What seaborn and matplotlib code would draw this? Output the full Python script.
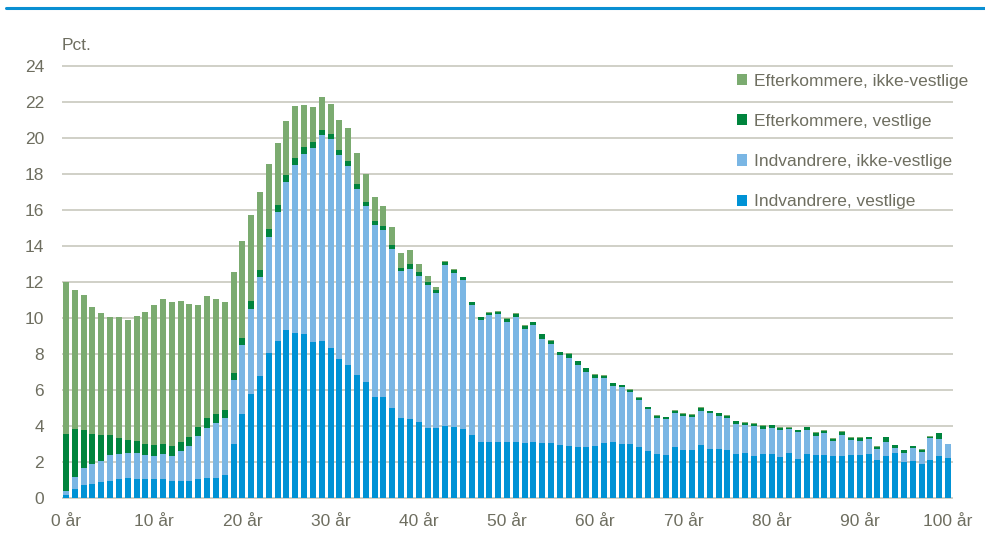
import numpy as np
import pandas as pd
import matplotlib
matplotlib.use("Agg")
import matplotlib.pyplot as plt
import seaborn as sns

# -----------------------------------
# DATA (pct. by age)
# -----------------------------------

ages = list(range(0, 101))

indv_vestlige = [
    0.18, 0.48, 0.70, 0.76, 0.87, 0.96, 1.04, 1.11, 1.04, 1.04,
    1.06, 1.06, 0.94, 0.94, 0.94, 1.04, 1.12, 1.13, 1.30, 3.02,
    4.69, 5.80, 6.80, 8.07, 8.70, 9.35, 9.19, 9.13, 8.69, 8.74,
    8.35, 7.74, 7.39, 6.83, 6.44, 5.61, 5.61, 4.98, 4.46, 4.39,
    4.22, 3.89, 3.89, 4.00, 3.94, 3.83, 3.50, 3.11, 3.11, 3.11,
    3.11, 3.11, 3.07, 3.11, 3.07, 3.07, 2.96, 2.91, 2.85, 2.85,
    2.91, 3.07, 3.11, 3.02, 3.02, 2.85, 2.63, 2.43, 2.39, 2.85,
    2.69, 2.69, 2.96, 2.74, 2.74, 2.69, 2.46, 2.52, 2.33, 2.46,
    2.43, 2.30, 2.50, 2.19, 2.47, 2.41, 2.41, 2.33, 2.33, 2.39,
    2.39, 2.44, 2.11, 2.33, 2.50, 2.02, 2.06, 1.87, 2.11, 2.33,
    2.22,
]

indv_ikke_vestlige = [
    0.19, 0.69, 0.95, 1.15, 1.20, 1.41, 1.42, 1.41, 1.44, 1.37,
    1.27, 1.38, 1.39, 1.69, 1.93, 2.40, 2.79, 3.06, 3.16, 3.54,
    3.79, 4.72, 5.46, 6.43, 7.19, 8.22, 9.29, 10.00, 10.77, 11.45,
    11.61, 11.33, 11.05, 10.34, 9.78, 9.58, 9.26, 8.83, 8.13, 8.35,
    8.11, 7.94, 7.48, 8.93, 8.58, 8.26, 7.22, 6.78, 7.04, 7.09,
    6.66, 6.93, 6.32, 6.50, 5.76, 5.49, 4.97, 4.89, 4.54, 4.17,
    3.74, 3.58, 3.11, 3.13, 2.89, 2.61, 2.30, 2.03, 2.02, 1.89,
    1.88, 1.83, 1.89, 1.96, 1.83, 1.75, 1.67, 1.55, 1.65, 1.39,
    1.48, 1.50, 1.31, 1.48, 1.32, 1.05, 1.18, 0.84, 1.15, 0.83,
    0.80, 0.84, 0.63, 0.78, 0.26, 0.50, 0.72, 0.70, 1.22, 0.95,
    0.78,
]

eft_vestlige = [
    3.17, 2.64, 2.11, 1.63, 1.41, 1.11, 0.85, 0.72, 0.67, 0.59,
    0.61, 0.56, 0.56, 0.46, 0.52, 0.50, 0.52, 0.48, 0.43, 0.40,
    0.43, 0.44, 0.41, 0.44, 0.41, 0.37, 0.43, 0.39, 0.30, 0.27,
    0.28, 0.26, 0.28, 0.26, 0.22, 0.22, 0.24, 0.23, 0.21, 0.26,
    0.24, 0.17, 0.17, 0.16, 0.15, 0.17, 0.15, 0.15, 0.15, 0.15,
    0.18, 0.20, 0.17, 0.15, 0.26, 0.18, 0.16, 0.22, 0.20, 0.18,
    0.18, 0.13, 0.15, 0.11, 0.11, 0.11, 0.11, 0.10, 0.07, 0.09,
    0.10, 0.09, 0.15, 0.11, 0.13, 0.13, 0.13, 0.10, 0.13, 0.17,
    0.13, 0.11, 0.08, 0.09, 0.13, 0.17, 0.15, 0.13, 0.19, 0.11,
    0.14, 0.09, 0.11, 0.26, 0.17, 0.13, 0.09, 0.12, 0.08, 0.31,
    0.00,
]

eft_ikke_vestlige = [
    8.46, 7.75, 7.52, 7.09, 6.82, 6.58, 6.73, 6.65, 6.94, 7.35,
    7.80, 8.06, 8.02, 7.87, 7.41, 6.78, 6.77, 6.39, 6.00, 5.61,
    5.37, 4.78, 4.31, 3.60, 3.42, 3.02, 2.89, 2.31, 1.98, 1.80,
    1.63, 1.69, 1.85, 1.74, 1.56, 1.33, 1.11, 1.00, 0.83, 0.76,
    0.43, 0.31, 0.16, 0.08, 0.05, 0.04, 0.04, 0.03, 0.03, 0.04,
    0.03, 0.02, 0.03, 0.04, 0.04, 0.04, 0.04, 0.04, 0.04, 0.04,
    0.04, 0.03, 0.04, 0.04, 0.04, 0.04, 0.03, 0.03, 0.04, 0.04,
    0.03, 0.04, 0.04, 0.04, 0.04, 0.04, 0.04, 0.03, 0.04, 0.04,
    0.03, 0.03, 0.04, 0.04, 0.03, 0.04, 0.04, 0.03, 0.03, 0.04,
    0.04, 0.04, 0.04, 0.04, 0.03, 0.04, 0.04, 0.03, 0.03, 0.04,
    0.00,
]

groups = [
    "Efterkommere, ikke-vestlige",
    "Efterkommere, vestlige",
    "Indvandrere, ikke-vestlige",
    "Indvandrere, vestlige",
]
colors = ["#7BAB70", "#00843D", "#7AB6E4", "#0092D5"]

x_ticks = list(range(0, 101, 10))
x_labels = [f"{a} år" for a in x_ticks]
y_ticks = list(range(0, 25, 2))

# long format for seaborn
df = pd.concat([
    pd.DataFrame({"age": ages, "value": vals, "group": g})
    for g, vals in zip(groups, [eft_ikke_vestlige, eft_vestlige,
                                indv_ikke_vestlige, indv_vestlige])
])

# -----------------------------------
# STYLE
# -----------------------------------

sns.set_style("white")
plt.rcParams["font.family"] = ["Liberation Sans", "DejaVu Sans"]
txt = "#6E6E60"
fs = 12.5

fig = plt.figure(figsize=(9.85, 5.39), dpi=100)
ax = fig.add_axes([62 / 985, 1 - 498.9 / 539, 891 / 985, 433.8 / 539])

sns.histplot(
    data=df, x="age", weights="value", hue="group",
    hue_order=groups, palette=colors,
    multiple="stack", discrete=True, shrink=0.68,
    linewidth=0, alpha=1, ax=ax,
)

ax.set_xlim(-0.45, 100.57)
ax.set_ylim(-0.05, 24.05)
ax.set_yticks(y_ticks)
ax.set_xticks(x_ticks)
ax.set_xticklabels(x_labels)
ax.set_xlabel("")
ax.set_ylabel("")
ax.set_axisbelow(True)
ax.grid(axis="y", color="#C8C8BE", lw=1.2)
ax.grid(axis="x", visible=False)
for s in ax.spines.values():
    s.set_visible(False)
ax.tick_params(axis="both", length=0, labelsize=fs, labelcolor=txt)
ax.tick_params(axis="y", pad=13)
ax.tick_params(axis="x", pad=11)

sns.move_legend(
    ax, "upper left", bbox_to_anchor=(0.7576, 0.980), title=None,
    frameon=False, fontsize=fs, labelcolor=txt,
    handlelength=0.6, handleheight=0.6, handletextpad=0.35,
    labelspacing=1.45, borderpad=0, borderaxespad=0,
)

fig.text(62 / 985, 1 - 46 / 539, "Pct.", fontsize=fs, color=txt, va="center")
fig.add_artist(plt.Line2D([0.006, 1.0], [1 - 8 / 539] * 2,
                          color="#0A8FD2", lw=2.2))

fig.savefig("out.png", dpi=100)
